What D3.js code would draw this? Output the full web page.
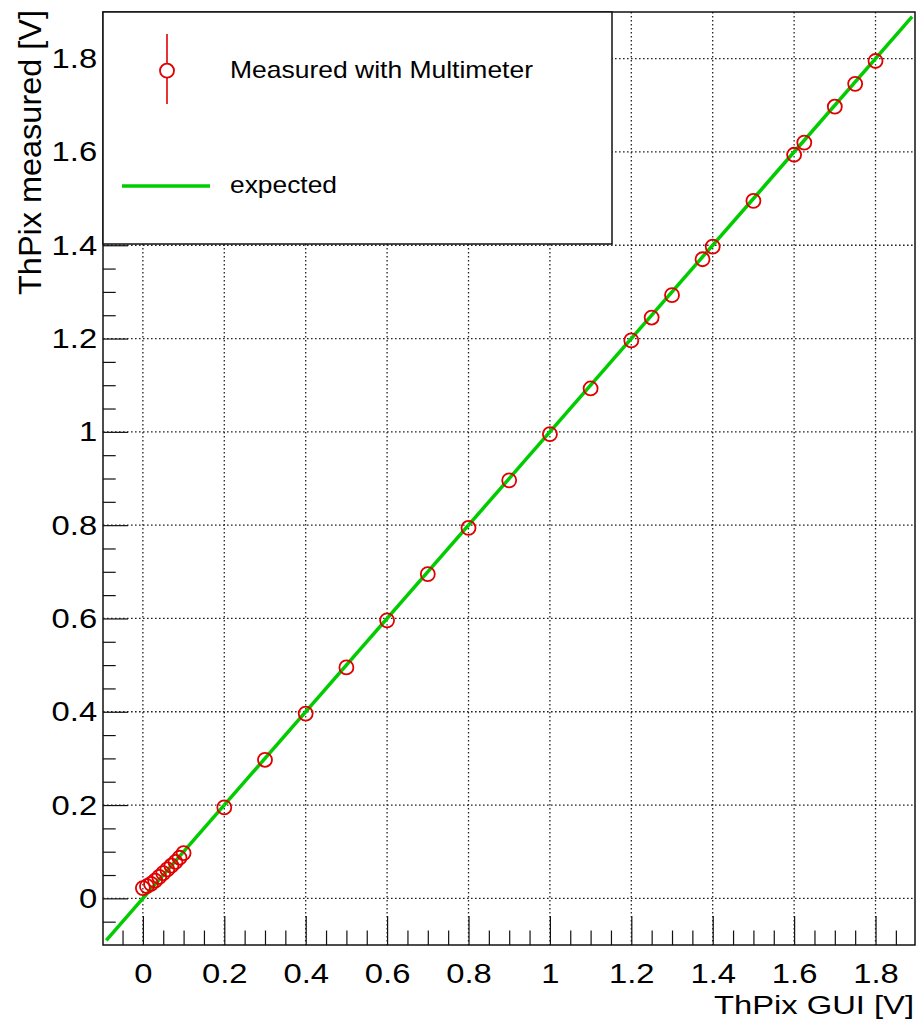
<!DOCTYPE html>
<html>
<head>
<meta charset="utf-8">
<script src="https://cdn.jsdelivr.net/npm/d3@7"></script>
<style>
body { margin: 0; background: #fff; }
text { font-family: "Liberation Sans", Arial, Helvetica, sans-serif; fill: #000; }
</style>
</head>
<body>
<script>
//-----------------------------DATA-----------------------------//
const guiVoltage = [0, 0.01, 0.02, 0.03, 0.04, 0.05, 0.06, 0.07, 0.08, 0.09, 0.1,
    0.2, 0.3, 0.4, 0.5, 0.6, 0.7, 0.8, 0.9, 1.0, 1.1, 1.2, 1.25, 1.3, 1.375, 1.4,
    1.5, 1.6, 1.625, 1.7, 1.75, 1.8];
const measuredVoltage = [0.022, 0.026, 0.031, 0.038, 0.046, 0.054, 0.062, 0.070, 0.078, 0.087, 0.097,
    0.195, 0.297, 0.396, 0.495, 0.596, 0.695, 0.794, 0.896, 0.995, 1.093, 1.196, 1.245, 1.293, 1.370, 1.397,
    1.495, 1.594, 1.620, 1.697, 1.746, 1.795];
const expectedRange = [-0.09, 1.89];
const majorTicks = [0, 0.2, 0.4, 0.6, 0.8, 1, 1.2, 1.4, 1.6, 1.8];
const legendLabels = ["Measured with Multimeter", "expected"];
const xTitle = "ThPix GUI [V]";
const yTitle = "ThPix measured [V]";

const width = 918;
const height = 1028;
const frame = {left: 103, right: 915, top: 12, bottom: 945};

const svg = d3.select("body").append("svg")
    .attr("width", width)
    .attr("height", height);

//----------------------------SCALES----------------------------//
const xScale = d3.scaleLinear().domain([-0.098, 1.897]).range([frame.left, frame.right]);
const yScale = d3.scaleLinear().domain([-0.1, 1.9]).range([frame.bottom, frame.top]);

const isMajor = v => Math.abs(v * 5 - Math.round(v * 5)) < 1e-6;
const xMinor = xScale.ticks(40).filter(v => !isMajor(v));
const yMinor = yScale.ticks(40).filter(v => !isMajor(v) && v > -0.099 && v < 1.899);

//-----------------------------GRID-----------------------------//
const grid = svg.append("g")
    .attr("stroke", "#222")
    .attr("stroke-width", 1.3)
    .attr("stroke-dasharray", "1.6,2.4");

grid.selectAll(".vgrid")
    .data(majorTicks)
    .enter().append("line")
    .attr("x1", d => xScale(d)).attr("x2", d => xScale(d))
    .attr("y1", frame.top).attr("y2", frame.bottom);

grid.selectAll(".hgrid")
    .data(majorTicks)
    .enter().append("line")
    .attr("x1", frame.left).attr("x2", frame.right)
    .attr("y1", d => yScale(d)).attr("y2", d => yScale(d));

//----------------------------LINES-----------------------------//
const line = d3.line()
    .x(d => xScale(d))
    .y(d => yScale(d));

svg.append("path")
    .datum(expectedRange)
    .attr("d", line)
    .attr("fill", "none")
    .attr("stroke", "#00cc00")
    .attr("stroke-width", 3.5);

svg.append("g")
    .selectAll("circle")
    .data(guiVoltage)
    .enter().append("circle")
    .attr("cx", d => xScale(d))
    .attr("cy", (d, i) => yScale(measuredVoltage[i]))
    .attr("r", 7)
    .attr("fill", "none")
    .attr("stroke", "#e00000")
    .attr("stroke-width", 1.8);

//-----------------------------AXES-----------------------------//
svg.append("g")
    .attr("transform", "translate(0," + frame.bottom + ")")
    .call(d3.axisBottom(xScale).tickValues(majorTicks).tickSize(-29).tickPadding(18)
        .tickFormat(d3.format("")));
svg.append("g")
    .attr("transform", "translate(0," + frame.bottom + ")")
    .call(d3.axisBottom(xScale).tickValues(xMinor).tickSize(-14.5).tickFormat(""));

svg.append("g")
    .attr("transform", "translate(" + frame.left + ",0)")
    .call(d3.axisLeft(yScale).tickValues(majorTicks).tickSize(-25).tickPadding(5)
        .tickFormat(d3.format("")));
svg.append("g")
    .attr("transform", "translate(" + frame.left + ",0)")
    .call(d3.axisLeft(yScale).tickValues(yMinor).tickSize(-12.7).tickFormat(""));

svg.selectAll(".domain").remove();
svg.selectAll(".tick line").attr("stroke", "#111").attr("stroke-width", 1.2);
svg.selectAll(".tick text")
    .style("font-family", "'Liberation Sans', Arial, sans-serif")
    .style("font-size", "28px")
    .attr("transform", "scale(1.17,1)");

svg.append("rect")
    .attr("x", frame.left).attr("y", frame.top)
    .attr("width", frame.right - frame.left)
    .attr("height", frame.bottom - frame.top)
    .attr("fill", "none")
    .attr("stroke", "#111")
    .attr("stroke-width", 1.5);

svg.append("text")
    .attr("x", frame.right - 1)
    .attr("y", 1014)
    .attr("text-anchor", "end")
    .attr("textLength", 200)
    .attr("lengthAdjust", "spacingAndGlyphs")
    .style("font-size", "25px")
    .text(xTitle);

svg.append("text")
    .attr("transform", "translate(41," + (frame.top - 2) + ") rotate(-90)")
    .attr("text-anchor", "end")
    .attr("textLength", 285)
    .attr("lengthAdjust", "spacingAndGlyphs")
    .style("font-size", "31px")
    .text(yTitle);

//----------------------------LEGEND----------------------------//
const legend = svg.append("g");

legend.append("rect")
    .attr("x", frame.left).attr("y", frame.top)
    .attr("width", 509).attr("height", 232)
    .attr("fill", "#fff")
    .attr("stroke", "#111")
    .attr("stroke-width", 1.5);

legend.append("line")
    .attr("x1", 167).attr("x2", 167)
    .attr("y1", 34).attr("y2", 63.5)
    .attr("stroke", "#e00000").attr("stroke-width", 1.6);
legend.append("line")
    .attr("x1", 167).attr("x2", 167)
    .attr("y1", 78).attr("y2", 104)
    .attr("stroke", "#e00000").attr("stroke-width", 1.6);
legend.append("circle")
    .attr("cx", 167).attr("cy", 70.7).attr("r", 7)
    .attr("fill", "none")
    .attr("stroke", "#e00000").attr("stroke-width", 1.8);

legend.append("line")
    .attr("x1", 122).attr("x2", 210)
    .attr("y1", 186).attr("y2", 186)
    .attr("stroke", "#00cc00").attr("stroke-width", 3.5);

legend.selectAll(".lbl")
    .data(legendLabels)
    .enter().append("text")
    .attr("x", 230)
    .attr("y", (d, i) => i === 0 ? 78 : 193)
    .attr("textLength", (d, i) => i === 0 ? 303 : 107)
    .attr("lengthAdjust", "spacingAndGlyphs")
    .style("font-size", "24px")
    .text(d => d);
</script>
</body>
</html>
